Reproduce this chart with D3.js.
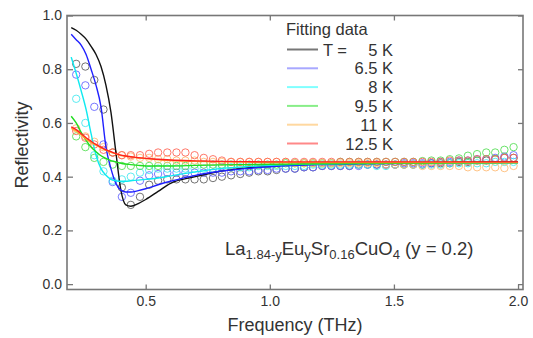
<!DOCTYPE html>
<meta charset="utf-8">
<style>
body { margin: 0; background: #fff; }
text { font-family: Arial, "Liberation Sans", sans-serif; fill: #333; }
</style>
<body>
<script src="https://cdn.jsdelivr.net/npm/d3@7"></script>
<script>

// measured frequencies (THz) of the data points
var freq = [
  0.220, 0.257, 0.293, 0.330, 0.367, 0.404, 0.440, 0.477, 0.514, 0.550,
  0.587, 0.624, 0.660, 0.697, 0.734, 0.771, 0.807, 0.844, 0.881, 0.917,
  0.954, 0.991, 1.027, 1.064, 1.101, 1.138, 1.174, 1.211, 1.248, 1.284,
  1.321, 1.358, 1.394, 1.431, 1.468, 1.505, 1.541, 1.578, 1.615, 1.651,
  1.688, 1.725, 1.762, 1.798, 1.835, 1.872, 1.908, 1.945, 1.982
];

var data5K = [
  0.82, 0.81, 0.76, 0.65, 0.49, 0.36, 0.295, 0.325, 0.37, 0.385,
  0.39, 0.39, 0.39, 0.39, 0.39, 0.395, 0.40, 0.405, 0.41, 0.415,
  0.42, 0.42, 0.425, 0.43, 0.43, 0.435, 0.435, 0.44, 0.44, 0.44,
  0.44, 0.445, 0.445, 0.445, 0.445, 0.445, 0.445, 0.445, 0.445, 0.45,
  0.45, 0.45, 0.455, 0.455, 0.46, 0.46, 0.465, 0.47, 0.47
];
var data6_5K = [
  0.78, 0.74, 0.66, 0.52, 0.38, 0.325, 0.34, 0.385, 0.405, 0.41,
  0.415, 0.415, 0.415, 0.415, 0.415, 0.415, 0.415, 0.42, 0.42, 0.42,
  0.425, 0.425, 0.43, 0.43, 0.43, 0.435, 0.435, 0.44, 0.44, 0.44,
  0.44, 0.44, 0.445, 0.445, 0.445, 0.445, 0.45, 0.45, 0.45, 0.45,
  0.455, 0.455, 0.46, 0.46, 0.465, 0.465, 0.47, 0.475, 0.48
];
var data8K = [
  0.69, 0.60, 0.48, 0.42, 0.385, 0.39, 0.40, 0.415, 0.425, 0.43,
  0.43, 0.43, 0.43, 0.43, 0.43, 0.43, 0.435, 0.435, 0.435, 0.435,
  0.44, 0.44, 0.44, 0.44, 0.44, 0.44, 0.445, 0.445, 0.445, 0.445,
  0.445, 0.445, 0.445, 0.44, 0.44, 0.445, 0.445, 0.445, 0.445, 0.445,
  0.445, 0.45, 0.45, 0.45, 0.45, 0.45, 0.455, 0.455, 0.455
];
var data9_5K = [
  0.55, 0.51, 0.47, 0.455, 0.445, 0.44, 0.44, 0.44, 0.44, 0.44,
  0.44, 0.44, 0.44, 0.445, 0.445, 0.445, 0.445, 0.445, 0.445, 0.445,
  0.445, 0.445, 0.445, 0.45, 0.45, 0.45, 0.45, 0.45, 0.45, 0.455,
  0.455, 0.455, 0.455, 0.455, 0.455, 0.455, 0.455, 0.455, 0.458, 0.46,
  0.46, 0.465, 0.468, 0.478, 0.484, 0.49, 0.49, 0.50, 0.51
];
var data11K = [
  0.58, 0.55, 0.53, 0.51, 0.49, 0.48, 0.475, 0.47, 0.47, 0.465,
  0.465, 0.46, 0.46, 0.46, 0.455, 0.455, 0.455, 0.455, 0.455, 0.455,
  0.455, 0.455, 0.455, 0.455, 0.45, 0.45, 0.45, 0.45, 0.45, 0.45,
  0.45, 0.45, 0.45, 0.45, 0.445, 0.445, 0.445, 0.445, 0.44, 0.44,
  0.44, 0.44, 0.44, 0.435, 0.435, 0.435, 0.435, 0.432, 0.44
];
var data12_5K = [
  0.57, 0.545, 0.52, 0.50, 0.49, 0.48, 0.48, 0.48, 0.485, 0.49,
  0.49, 0.49, 0.49, 0.48, 0.47, 0.465, 0.46, 0.455, 0.455, 0.455,
  0.455, 0.455, 0.455, 0.455, 0.455, 0.455, 0.455, 0.455, 0.455, 0.455,
  0.455, 0.455, 0.455, 0.455, 0.455, 0.455, 0.455, 0.455, 0.455, 0.455,
  0.455, 0.46, 0.46, 0.46, 0.465, 0.465, 0.465, 0.47, 0.47
];

// fitted curves, read at these frequencies
var fitFreq = [0.20, 0.22, 0.24, 0.26, 0.28, 0.30, 0.32, 0.34, 0.36, 0.38, 0.40, 0.42, 0.44,
               0.47, 0.50, 0.55, 0.60, 0.70, 0.80, 0.90, 1.0, 1.2, 1.4, 1.6, 1.8, 2.0];
var fit5K    = [0.955, 0.945, 0.93, 0.912, 0.885, 0.855, 0.81, 0.74, 0.64, 0.49, 0.35, 0.295, 0.29,
                0.30, 0.315, 0.345, 0.375, 0.40, 0.42, 0.432, 0.44, 0.447, 0.45, 0.452, 0.454, 0.455];
var fit6_5K  = [0.93, 0.91, 0.89, 0.855, 0.80, 0.74, 0.66, 0.51, 0.43, 0.375, 0.35, 0.343, 0.343,
                0.348, 0.355, 0.37, 0.383, 0.405, 0.42, 0.43, 0.437, 0.445, 0.448, 0.45, 0.452, 0.453];
var fit8K    = [0.845, 0.785, 0.72, 0.65, 0.56, 0.48, 0.43, 0.405, 0.39, 0.385, 0.383, 0.383, 0.385,
                0.387, 0.39, 0.395, 0.403, 0.418, 0.43, 0.437, 0.442, 0.447, 0.449, 0.45, 0.451, 0.452];
var fit9_5K  = [0.625, 0.60, 0.565, 0.535, 0.51, 0.493, 0.478, 0.468, 0.46, 0.455, 0.45, 0.447, 0.445,
                0.442, 0.44, 0.44, 0.44, 0.442, 0.444, 0.445, 0.446, 0.448, 0.449, 0.45, 0.451, 0.452];
var fit11K   = [0.58, 0.57, 0.555, 0.54, 0.527, 0.517, 0.507, 0.498, 0.491, 0.485, 0.479, 0.476, 0.473,
                0.47, 0.467, 0.463, 0.46, 0.457, 0.455, 0.454, 0.453, 0.453, 0.453, 0.453, 0.453, 0.453];
var fit12_5K = [0.585, 0.575, 0.56, 0.545, 0.532, 0.52, 0.51, 0.50, 0.493, 0.486, 0.48, 0.477, 0.474,
                0.471, 0.468, 0.465, 0.462, 0.459, 0.457, 0.456, 0.455, 0.455, 0.455, 0.455, 0.455, 0.455];

var tempLabels = ["5 K", "6.5 K", "8 K", "9.5 K", "11 K", "12.5 K"];
var xTicks = [0.5, 1.0, 1.5, 2.0];
var yTicks = [0.0, 0.2, 0.4, 0.6, 0.8, 1.0];

var series = [
  {label: tempLabels[0], pts: data5K,    fit: fit5K,    line: "#111111", dot: "#5a5a5a", leg: "#777777"},
  {label: tempLabels[1], pts: data6_5K,  fit: fit6_5K,  line: "#2020ff", dot: "#6060ff", leg: "#a8a8ff"},
  {label: tempLabels[2], pts: data8K,    fit: fit8K,    line: "#10eaf0", dot: "#40e8ee", leg: "#80ffff"},
  {label: tempLabels[3], pts: data9_5K,  fit: fit9_5K,  line: "#20dd20", dot: "#50dd50", leg: "#88ee88"},
  {label: tempLabels[4], pts: data11K,   fit: fit11K,   line: "#ffaa30", dot: "#ffb870", leg: "#ffd8a0"},
  {label: tempLabels[5], pts: data12_5K, fit: fit12_5K, line: "#ff2020", dot: "#ff6050", leg: "#ff8888"}
];

var width = 533, height = 338;

var x = d3.scaleLinear().domain([0.183, 2.02]).range([67, 523]);
var y = d3.scaleLinear().domain([-0.02, 1.0]).range([289.5, 15.5]);

var svg = d3.select("body").append("svg")
    .attr("width", width)
    .attr("height", height);

// data circles
series.forEach(function(s) {
  svg.append("g").selectAll("circle")
      .data(freq.map(function(f, i) { return [f, s.pts[i]]; }))
    .enter().append("circle")
      .attr("cx", function(d) { return x(d[0]); })
      .attr("cy", function(d) { return y(d[1]); })
      .attr("r", 3.7)
      .attr("fill", "none")
      .attr("stroke", s.dot)
      .attr("stroke-opacity", 0.85)
      .attr("stroke-width", 1);
});

// fit lines
var line = d3.line()
    .x(function(d) { return x(d[0]); })
    .y(function(d) { return y(d[1]); })
    .curve(d3.curveMonotoneX);

series.forEach(function(s) {
  svg.append("path")
      .datum(fitFreq.map(function(f, i) { return [f, s.fit[i]]; }))
      .attr("d", line)
      .attr("fill", "none")
      .attr("stroke", s.line)
      .attr("stroke-width", 1.4);
});

// frame + inward ticks
var axisColor = "#777";

var axLeft = svg.append("g")
    .attr("transform", "translate(" + x.range()[0] + ",0)")
    .call(d3.axisLeft(y).tickValues(yTicks).tickFormat(d3.format(".1f"))
      .tickSizeInner(-6).tickSizeOuter(0).tickPadding(5));
var axBottom = svg.append("g")
    .attr("transform", "translate(0," + y.range()[0] + ")")
    .call(d3.axisBottom(x).tickValues(xTicks).tickFormat(d3.format(".1f"))
      .tickSizeInner(-5).tickSizeOuter(0).tickPadding(7));
var axRight = svg.append("g")
    .attr("transform", "translate(" + x.range()[1] + ",0)")
    .call(d3.axisRight(y).tickValues(yTicks).tickFormat("")
      .tickSizeInner(-5).tickSizeOuter(0));
var axTop = svg.append("g")
    .attr("transform", "translate(0," + y.range()[1] + ")")
    .call(d3.axisTop(x).tickValues([0.5, 1.0, 1.5]).tickFormat("")
      .tickSizeInner(-5).tickSizeOuter(0));

[axLeft, axBottom, axRight, axTop].forEach(function(g) {
  g.select(".domain").remove();
  g.selectAll(".tick line").attr("stroke", axisColor).attr("stroke-width", 1.3);
  g.selectAll(".tick text")
      .attr("fill", "#333")
      .style("font-size", "14px");
});

svg.append("rect")
    .attr("x", x.range()[0])
    .attr("y", y.range()[1])
    .attr("width", x.range()[1] - x.range()[0])
    .attr("height", y.range()[0] - y.range()[1])
    .attr("fill", "none")
    .attr("stroke", axisColor)
    .attr("stroke-width", 1.6);

// axis titles
svg.append("text")
    .attr("transform", "translate(28,145) rotate(-90)")
    .attr("text-anchor", "middle")
    .style("font-size", "18px")
    .text("Reflectivity");

svg.append("text")
    .attr("x", 295)
    .attr("y", 331)
    .attr("text-anchor", "middle")
    .style("font-size", "18px")
    .text("Frequency (THz)");

// legend
var legend = svg.append("g").attr("transform", "translate(286,0)");
legend.append("text")
    .attr("x", 0)
    .attr("y", 35)
    .style("font-size", "16.5px")
    .text("Fitting data");

series.forEach(function(s, i) {
  var row = legend.append("g")
      .attr("transform", "translate(0," + (49.5 + i * 18.8) + ")");
  row.append("line")
      .attr("x1", 1).attr("x2", 32)
      .attr("stroke", s.leg)
      .attr("stroke-width", 2);
  if (i === 0) {
    row.append("text")
        .attr("x", 37).attr("y", 6)
        .style("font-size", "16.5px")
        .text("T =");
  }
  row.append("text")
      .attr("x", 107).attr("y", 6)
      .attr("text-anchor", "end")
      .style("font-size", "16.5px")
      .text(s.label);
});

// sample label
var label = svg.append("text")
    .attr("x", 225)
    .attr("y", 255)
    .style("font-size", "18.5px");
label.append("tspan").text("La");
label.append("tspan").attr("dy", 4).style("font-size", "13px").text("1.84-y");
label.append("tspan").attr("dy", -4).text("Eu");
label.append("tspan").attr("dy", 4).style("font-size", "13px").text("y");
label.append("tspan").attr("dy", -4).text("Sr");
label.append("tspan").attr("dy", 4).style("font-size", "13px").text("0.16");
label.append("tspan").attr("dy", -4).text("CuO");
label.append("tspan").attr("dy", 4).style("font-size", "13px").text("4");
label.append("tspan").attr("dy", -4).text(" (y = 0.2)");

</script>
</body>
